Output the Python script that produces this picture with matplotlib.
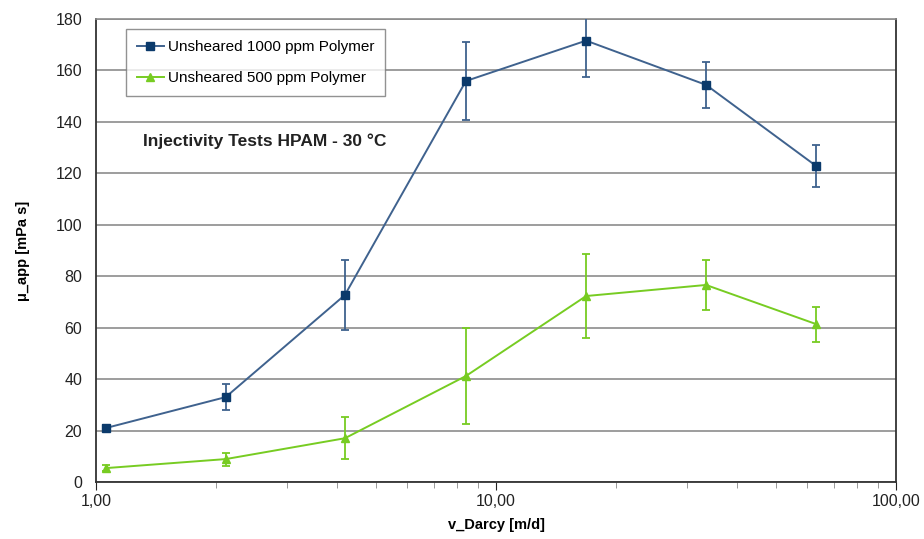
import matplotlib
matplotlib.use("Agg")
from matplotlib import pyplot as plt
from matplotlib.ticker import FixedLocator, FuncFormatter, LogLocator, NullFormatter

plt.rcParams['font.family'] = ['Liberation Sans', 'DejaVu Sans']

# v_Darcy [m/d]
v_darcy = [1.06, 2.11, 4.19, 8.41, 16.8, 33.5, 63.1]

# Unsheared 1000 ppm
mu_1000 = [21.0, 33.0, 72.7, 155.9, 171.6, 154.4, 122.9]
err_1000 = [1.0, 5.0, 13.5, 15.0, 14.0, 9.0, 8.2]

# Unsheared 500 ppm
mu_500 = [5.4, 8.9, 17.0, 41.2, 72.3, 76.6, 61.4]
err_500 = [1.2, 2.5, 8.2, 18.6, 16.5, 9.8, 6.8]

labels = ['Unsheared 1000 ppm Polymer', 'Unsheared 500 ppm Polymer']

blue_line = '#3f628e'
blue_mark = '#0b3a6b'
green = '#77cc22'

fig = plt.figure(figsize=(9.24, 5.39), dpi=100)
ax = fig.add_axes([0.1039, 0.1058, 0.8658, 0.8589])

c1 = ax.errorbar(v_darcy, mu_1000, yerr=err_1000, color=blue_line, lw=1.4,
                 marker='s', ms=6, mfc=blue_mark, mec=blue_mark,
                 ecolor=blue_line, elinewidth=1.3, capsize=3, capthick=1.3,
                 zorder=3)
c2 = ax.errorbar(v_darcy, mu_500, yerr=err_500, color=green, lw=1.4,
                 marker='^', ms=6, mfc=green, mec=green,
                 ecolor=green, elinewidth=1.3, capsize=3, capthick=1.3,
                 zorder=3)

ax.set_xscale('log')
ax.set_xlim(1, 100)
ax.set_ylim(0, 180)
ax.set_yticks(range(0, 181, 20))
ax.xaxis.set_major_locator(FixedLocator([1, 10, 100]))
ax.xaxis.set_major_formatter(FuncFormatter(lambda v, p: ('%.2f' % v).replace('.', ',')))
ax.xaxis.set_minor_locator(LogLocator(base=10, subs=range(2, 10)))
ax.xaxis.set_minor_formatter(NullFormatter())

ax.grid(True, axis='y', color='#8c8c8c', lw=1.2)
ax.set_axisbelow(True)
for s in ['left', 'bottom', 'right']:
    ax.spines[s].set_color('#333333')
    ax.spines[s].set_linewidth(1.3)
ax.spines['top'].set_color('#8c8c8c')
ax.spines['top'].set_linewidth(1.2)

ax.tick_params(axis='both', labelsize=11.5, colors='#222222', direction='out')
ax.tick_params(axis='y', length=0, pad=10)
ax.tick_params(axis='x', which='major', length=6, pad=3)
ax.tick_params(axis='x', which='minor', length=4, color='#888888')

ax.set_xlabel('v_Darcy [m/d]', fontsize=10.5, fontweight='bold', labelpad=6)
ax.set_ylabel('μ_app [mPa s]', fontsize=10.5, fontweight='bold', labelpad=18)

ax.text(0.059, 0.726, 'Injectivity Tests HPAM - 30 °C', transform=ax.transAxes,
        fontsize=12.5, fontweight='bold', color='#222222')

leg = ax.legend([c1.lines[0], c2.lines[0]], labels, loc='upper left',
                bbox_to_anchor=(0.0375, 0.978), borderaxespad=0, fontsize=11,
                frameon=True, fancybox=False, edgecolor='#777777',
                handlelength=1.8, borderpad=0.7, labelspacing=1.15, handletextpad=0.25)
leg.get_frame().set_linewidth(1.0)

fig.savefig('out.png', dpi=100)
